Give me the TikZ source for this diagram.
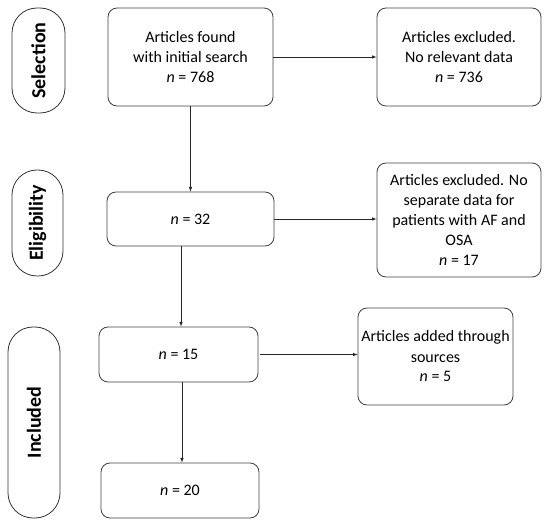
\documentclass[tikz,border=0pt]{standalone}
\usepackage{fontspec}
\setmainfont{Carlito}
\begin{document}
\begin{tikzpicture}[x=1pt,y=-1pt,
    stage/.style={draw=black!80,line width=0.8pt,rotate=90,rounded corners=25pt,
      font=\fontsize{20}{24}\selectfont\bfseries,inner sep=0pt},
    box/.style={draw=black!75,line width=0.8pt,rounded corners=9pt,align=center,
      font=\fontsize{16}{20}\selectfont,inner sep=0pt},
    arr/.style={draw=black!85,line width=0.6pt,-latex}]
  \useasboundingbox (0,0) rectangle (550,524);
  % stages
  \node[stage,minimum width=105pt,minimum height=53pt] (sel) at (38.5,60.5) {Selection};
  \node[stage,minimum width=106pt,minimum height=51pt] (elig) at (37.5,223) {Eligibility};
  \node[stage,minimum width=191pt,minimum height=52pt] (incl) at (34,422.5) {Included};
  % main column
  \node[box,minimum width=165pt,minimum height=98pt] (found) at (190.5,57) {Articles found\\with initial search\\\textit{n} = 768};
  \node[box,minimum width=167pt,minimum height=54pt] (n32) at (190.5,219) {\textit{n} = 32};
  \node[box,minimum width=159pt,minimum height=55pt] (n15) at (178.5,354.5) {\textit{n} = 15};
  \node[box,minimum width=158pt,minimum height=55pt] (n20) at (180,490.5) {\textit{n} = 20};
  % side column
  \node[box,minimum width=164pt,minimum height=98pt] (excl1) at (459,57) {Articles excluded.\\No relevant data\\\textit{n} = 736};
  \node[box,minimum width=164pt,minimum height=114pt] (excl2) at (459,220) {Articles excluded. No\\separate data for\\patients with AF and\\OSA\\\textit{n} = 17};
  \node[box,minimum width=155pt,minimum height=97pt] (added) at (435.5,356.5) {Articles added through\\sources\\\textit{n} = 5};
  % connectors
  \draw[arr] (found.east) -- (excl1.west);
  \draw[arr] (found.south) -- (n32.north);
  \draw[arr] (n32.east) -- (n32.east -| excl2.west);
  \draw[arr] (n32.south -| 181,0) -- (n15.north -| 181,0);
  \draw[arr] ([xshift=2pt]n15.east) -- (n15.east -| added.west);
  \draw[arr] (n15.south -| 182,0) -- (n20.north -| 182,0);
\end{tikzpicture}
\end{document}
